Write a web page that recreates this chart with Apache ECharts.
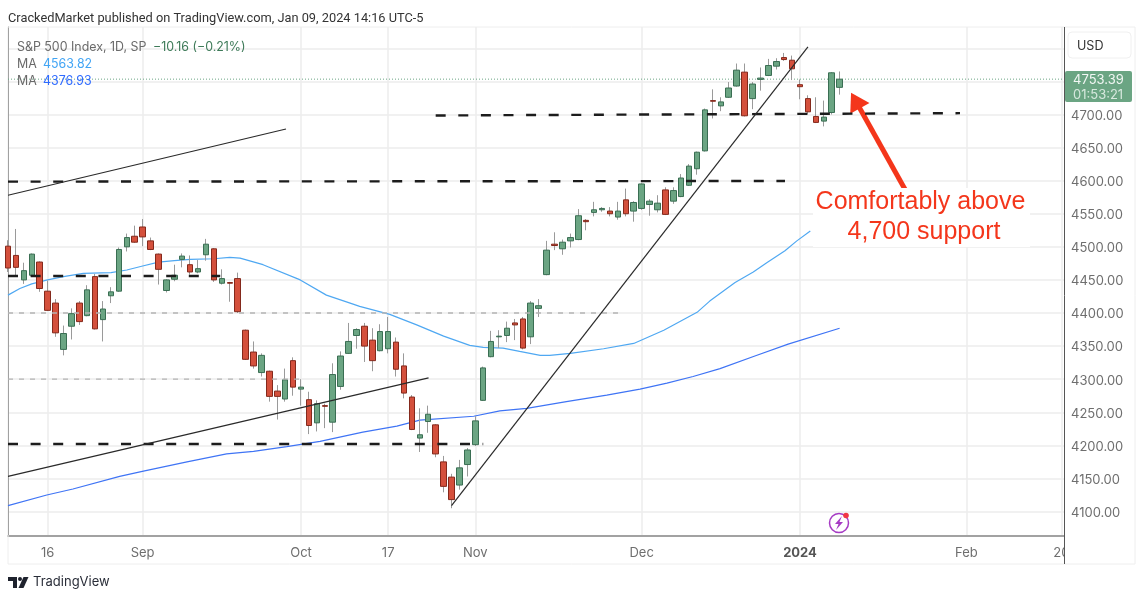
<!DOCTYPE html>
<html>
<head>
<meta charset="utf-8">
<title>S&amp;P 500 Index, 1D</title>
<script src="https://cdn.jsdelivr.net/npm/echarts@6/dist/echarts.min.js"></script>
<style>
  html, body { margin: 0; padding: 0; background: #fff; }
  #chart { width: 1144px; height: 600px; }
</style>
</head>
<body>
<div id="chart"></div>
<script>
// daily candles, one entry per bar
const opens = [
  4501, 4487, 4450, 4457, 4477, 4433, 4415, 4345, 4380, 4415,
  4396, 4455, 4390, 4426, 4433, 4500, 4516, 4530, 4509, 4489,
  4434, 4451, 4481, 4473, 4462, 4488, 4497, 4445, 4446, 4452,
  4374, 4341, 4310, 4312, 4282, 4270, 4328, 4285, 4269, 4234,
  4260, 4235, 4289, 4339, 4366, 4380, 4359, 4343, 4346, 4356,
  4320, 4273, 4211, 4236, 4231, 4175, 4152, 4140, 4171, 4201,
  4268, 4334, 4364, 4366, 4385, 4391, 4364, 4407, 4458, 4504,
  4497, 4509, 4511, 4540, 4552, 4556, 4554, 4545, 4571, 4554,
  4558, 4564, 4556, 4586, 4569, 4576, 4593, 4618, 4645, 4721,
  4713, 4726, 4743, 4764, 4724, 4753, 4759, 4773, 4786, 4782,
  4745, 4724, 4697, 4690, 4703, 4741
];
const closes = [
  4468, 4469, 4464, 4489, 4437, 4404, 4370, 4369, 4399, 4387,
  4435, 4376, 4406, 4432, 4496, 4514, 4507, 4515, 4496, 4466,
  4450, 4457, 4486, 4462, 4467, 4504, 4450, 4452, 4445, 4402,
  4330, 4320, 4336, 4274, 4274, 4299, 4288, 4288, 4230, 4263,
  4259, 4307, 4335, 4357, 4375, 4350, 4328, 4372, 4372, 4315,
  4279, 4224, 4216, 4247, 4187, 4138, 4118, 4166, 4193, 4237,
  4317, 4357, 4365, 4377, 4382, 4347, 4415, 4411, 4495, 4502,
  4507, 4514, 4547, 4538, 4556, 4558, 4550, 4554, 4550, 4567,
  4595, 4569, 4566, 4549, 4585, 4604, 4622, 4643, 4707, 4720,
  4719, 4740, 4767, 4698, 4746, 4755, 4774, 4780, 4783, 4769,
  4742, 4704, 4688, 4696, 4763, 4753.39
];
const lows = [
  4462, 4457, 4444, 4455, 4432, 4403, 4364, 4336, 4360, 4382,
  4395, 4375, 4357, 4415, 4432, 4493, 4506, 4501, 4495, 4443,
  4431, 4448, 4469, 4458, 4460, 4479, 4447, 4443, 4417, 4400,
  4329, 4316, 4304, 4266, 4239, 4266, 4275, 4260, 4217, 4221,
  4226, 4220, 4284, 4338, 4346, 4326, 4312, 4342, 4339, 4304,
  4271, 4223, 4190, 4219, 4182, 4129, 4105, 4133, 4153, 4199,
  4267, 4333, 4347, 4356, 4359, 4345, 4353, 4394, 4457, 4495,
  4488, 4499, 4510, 4525, 4546, 4553, 4546, 4541, 4546, 4538,
  4556, 4547, 4552, 4548, 4565, 4575, 4592, 4609, 4644, 4694,
  4705, 4725, 4742, 4697, 4708, 4736, 4758, 4768, 4781, 4752,
  4723, 4700, 4687, 4682, 4700, 4730
];
const highs = [
  4510, 4527, 4476, 4490, 4478, 4449, 4421, 4381, 4407, 4418,
  4442, 4459, 4418, 4439, 4499, 4520, 4532, 4542, 4514, 4490,
  4451, 4473, 4490, 4487, 4480, 4512, 4498, 4466, 4447, 4461,
  4375, 4357, 4339, 4313, 4291, 4316, 4333, 4300, 4281, 4268,
  4263, 4324, 4342, 4385, 4377, 4385, 4377, 4383, 4394, 4363,
  4339, 4276, 4256, 4260, 4232, 4184, 4157, 4178, 4196, 4244,
  4319, 4373, 4374, 4387, 4391, 4394, 4418, 4421, 4509, 4522,
  4511, 4520, 4557, 4542, 4568, 4560, 4560, 4568, 4588, 4569,
  4596, 4572, 4578, 4590, 4590, 4610, 4625, 4644, 4709, 4738,
  4726, 4749, 4777, 4777, 4749, 4771, 4784, 4785, 4793, 4789,
  4753, 4729, 4726, 4721, 4764, 4765
];

// moving averages: bar number and value, read at the bends of each curve
const maFastBars = [0, 1.5, 3, 5, 7, 9.5, 13, 15, 17, 19, 21, 23, 26, 28, 29.3, 32.2, 36.9, 40.2, 43.2, 44.4, 48.2, 51.6, 55, 58.3, 60, 62.5, 64.6, 67.2, 68.4, 71, 75.2, 79, 82.8, 87, 88.6, 91.8, 94.1, 95.8, 98.1, 99.6, 101.3];
const maFastValues = [4427, 4437, 4444, 4450, 4455, 4460, 4461, 4465, 4471, 4477, 4479, 4481, 4482, 4484, 4483, 4473, 4450, 4427, 4415, 4410, 4398, 4382, 4365, 4351, 4348, 4347, 4342, 4336, 4336, 4339, 4346, 4354, 4374, 4401, 4418, 4446, 4462, 4476, 4494, 4509, 4524];
const maSlowBars = [0, 4.9, 8.2, 14.1, 17.1, 22.6, 27.6, 31, 35.2, 39.4, 44.8, 49.1, 52, 58.8, 62.1, 65.5, 70.5, 75.6, 79.8, 83.2, 86.5, 89.9, 94.3, 98.5, 105];
const maSlowValues = [4109, 4125, 4134, 4153, 4161, 4175, 4187, 4191, 4198, 4206, 4220, 4229, 4238, 4244, 4252, 4256, 4266, 4276, 4285, 4294, 4304, 4316, 4335, 4353, 4377];

// hand drawn lines on the chart: [bar, price] at both ends
const trendLines = [
  [[0, 4578], [35.1, 4678]],
  [[0, 4153], [53.1, 4302]],
  [[56, 4109], [101, 4802]]
];
const supportLines = [
  [[54, 4698.5], [120.2, 4702]],
  [[0, 4598.5], [98.1, 4599.5]],
  [[0, 4456], [26.8, 4456]],
  [[0, 4202], [60, 4202]]
];
const greyLevels = [
  [[0, 4400], [77.5, 4400]],
  [[0, 4300], [37, 4300]]
];
const lastPrice = 4753.39;
const arrowFrom = [113.3, 4586];
const arrowTo = [107, 4721];

const xTickBars = [5, 17, 37, 48, 59, 80, 100, 121, 133];
const xTickLabels = ['16', 'Sep', 'Oct', '17', 'Nov', 'Dec', '2024', 'Feb', '20'];
const yGridValues = [4100, 4150, 4200, 4250, 4300, 4350, 4400, 4450, 4500, 4550, 4600, 4650, 4700, 4750, 4800];
const yLabelValues = [4100, 4150, 4200, 4250, 4300, 4350, 4400, 4450, 4500, 4550, 4600, 4650, 4700];

const UI_FONT = 'Inter, "Noto Sans", sans-serif';
const GREEN = '#6ba583';
const RED = '#d4503c';

let barIdx = opens.map((o, i) => i);
let wickData = barIdx.map(i => [i, opens[i], closes[i], lows[i], highs[i]]);
// second candle series has no wick, the wick in the picture is grey and the body border dark
let bodyData = barIdx.map(i => [i, opens[i], closes[i], Math.min(opens[i], closes[i]), Math.max(opens[i], closes[i])]);

function segment(points, color, width, dash, z) {
  return {
    type: 'line',
    data: points,
    showSymbol: false,
    silent: true,
    z: z,
    lineStyle: { color: color, width: width, type: dash || 'solid' }
  };
}

function label(text, x, y, fill, size, family) {
  return {
    type: 'text',
    z: 110,
    silent: true,
    style: {
      text: text, x: x, y: y, fill: fill,
      font: (size || 13) + 'px ' + (family || UI_FONT),
      verticalAlign: 'middle'
    }
  };
}

let series = [
  segment(maFastBars.map((b, i) => [b, maFastValues[i]]), '#4fa8f2', 1.2, null, 2),
  segment(maSlowBars.map((b, i) => [b, maSlowValues[i]]), '#3f74f5', 1.2, null, 2),
  segment([[0, lastPrice], [133.33, lastPrice]], GREEN, 1, [1, 2], 2),
  {
    type: 'candlestick',
    data: wickData,
    encode: { x: 0, y: [1, 2, 3, 4] },
    barWidth: 1,
    silent: true,
    z: 3,
    itemStyle: { color: '#9a9a9a', color0: '#9a9a9a', borderColor: '#9a9a9a', borderColor0: '#9a9a9a', borderWidth: 1 }
  },
  {
    type: 'candlestick',
    data: bodyData,
    encode: { x: 0, y: [1, 2, 3, 4] },
    barWidth: 6,
    silent: true,
    z: 4,
    itemStyle: { color: GREEN, color0: RED, borderColor: '#3a6e53', borderColor0: '#84291c', borderWidth: 1 }
  }
];
greyLevels.forEach(l => series.push(segment(l, '#b4b4b4', 1.4, [5, 6], 5)));
supportLines.forEach(l => series.push(segment(l, '#1c1c1c', 2.4, [10, 12.6], 5)));
trendLines.forEach(l => series.push(segment(l, '#2a2a2a', 1.2, null, 5)));
series.push({
  type: 'line',
  data: [],
  z: 6,
  markLine: {
    silent: true,
    animation: false,
    symbol: ['none', 'triangle'],
    symbolSize: [22, 18],
    label: { show: false },
    lineStyle: { color: '#f4361b', width: 5, type: 'solid' },
    data: [[{ coord: arrowFrom }, { coord: arrowTo }]]
  }
});

let chart = echarts.init(document.getElementById('chart'));
chart.setOption({
  animation: false,
  backgroundColor: '#fff',
  grid: { left: 8, right: 80, top: 27, bottom: 64, containLabel: false },
  xAxis: {
    type: 'value',
    min: 0,
    max: 133.33,
    axisLine: { onZero: false, lineStyle: { color: '#a2a2a2', width: 2 } },
    axisTick: { show: false, customValues: xTickBars },
    splitLine: { show: true, lineStyle: { color: '#ececec', width: 1.5 } },
    axisLabel: {
      customValues: xTickBars,
      margin: 11,
      color: '#6e6e6e',
      fontFamily: 'Inter, "Noto Sans", sans-serif',
      fontSize: 13,
      formatter: function (v) {
        let t = xTickLabels[xTickBars.indexOf(v)];
        return t === '2024' ? '{year|2024}' : t;
      },
      rich: { year: { fontWeight: 'bold', fontSize: 13, color: '#555', fontFamily: 'Inter, "Noto Sans", sans-serif' } }
    }
  },
  yAxis: {
    type: 'value',
    position: 'right',
    min: 4063,
    max: 4832.2,
    axisLine: { show: true, lineStyle: { color: '#555', width: 1 } },
    axisTick: { show: false, customValues: yGridValues },
    splitLine: { show: true, lineStyle: { color: '#ececec', width: 1.5 } },
    axisLabel: {
      customValues: yLabelValues,
      margin: 7,
      verticalAlign: 'top',
      lineHeight: 3,
      color: '#6e6e6e',
      fontFamily: 'Inter, "Noto Sans", sans-serif',
      fontSize: 13,
      formatter: v => v.toFixed(2)
    }
  },
  series: series,
  graphic: { elements: [
    // panel around the chart
    { type: 'rect', z: 1, silent: true, shape: { x: 8, y: 27, width: 1127, height: 537 }, style: { fill: 'none', stroke: '#eeeeee', lineWidth: 1 } },
    { type: 'rect', z: 105, silent: true, shape: { x: 1065, y: 538, width: 22, height: 25 }, style: { fill: '#fff' } },
    { type: 'line', z: 106, silent: true, shape: { x1: 1064.5, y1: 27, x2: 1064.5, y2: 564 }, style: { stroke: '#555', lineWidth: 1 } },

    // header
    label('CrackedMarket published on TradingView.com, Jan 09, 2024 14:16 UTC-5', 8, 19, '#333', 12.8, 'Roboto, sans-serif'),
    label('S&P 500 Index, 1D, SP', 17, 47, '#6a6a6a', 12.4),
    label('\u221210.16 (\u22120.21%)', 153, 47, '#3d7a58', 12.4),
    label('MA', 17, 64, '#6a6a6a', 12.4),
    label('4563.82', 43, 64, '#42a5f5', 12.4),
    label('MA', 17, 81, '#6a6a6a', 12.4),
    label('4376.93', 43, 81, '#2f6bff', 12.4),

    // currency and last price tags
    { type: 'rect', z: 100, silent: true, shape: { x: 1068, y: 32, width: 63, height: 26, r: 4 }, style: { fill: '#fff', stroke: '#f0f0f0' } },
    label('USD', 1077, 46, '#333', 12.6),
    { type: 'rect', z: 100, silent: true, shape: { x: 1065, y: 71, width: 67, height: 31, r: 2 }, style: { fill: GREEN } },
    label('4753.39', 1073, 80.5, '#f2f7f4', 13),
    label('01:53:21', 1073, 95, '#d7e8de', 13),

    // note next to the arrow
    { type: 'rect', z: 100, silent: true, shape: { x: 813, y: 188, width: 217, height: 59 }, style: { fill: '#fff' } },
    { type: 'text', z: 110, silent: true, style: { text: 'Comfortably above', x: 920.5, y: 202, fill: '#f4361b', font: '25px "Liberation Sans", sans-serif', align: 'center', verticalAlign: 'middle' } },
    { type: 'text', z: 110, silent: true, style: { text: '4,700 support', x: 924, y: 232, fill: '#f4361b', font: '25px "Liberation Sans", sans-serif', align: 'center', verticalAlign: 'middle' } },

    // lightning badge
    { type: 'circle', z: 100, silent: true, shape: { cx: 839, cy: 523, r: 9.5 }, style: { fill: '#fff', stroke: '#a63bc4', lineWidth: 1.5 } },
    { type: 'polygon', z: 101, silent: true, shape: { points: [[842, 516], [835, 524], [838.5, 524], [836, 530], [843, 522], [839.5, 522]] }, style: { fill: '#a63bc4' } },
    { type: 'circle', z: 102, silent: true, shape: { cx: 846, cy: 515.5, r: 2.8 }, style: { fill: '#f23645' } },

    // TradingView mark
    { type: 'polygon', z: 100, silent: true, shape: { points: [[8, 577], [17, 577], [17, 588], [13, 588], [13, 581], [8, 581]] }, style: { fill: '#1e222d' } },
    { type: 'circle', z: 100, silent: true, shape: { cx: 20, cy: 579, r: 2 }, style: { fill: '#1e222d' } },
    { type: 'polygon', z: 100, silent: true, shape: { points: [[23.5, 577], [28.5, 577], [23.5, 588], [18.5, 588]] }, style: { fill: '#1e222d' } },
    label('TradingView', 33, 582, '#2a2e39', 13)
  ] }
});
</script>
</body>
</html>
